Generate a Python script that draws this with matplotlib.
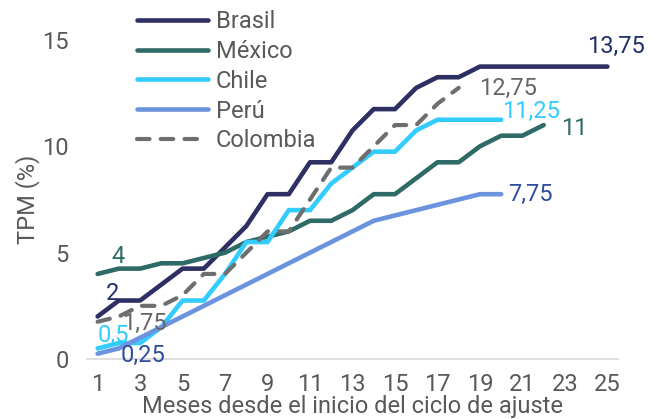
import matplotlib
matplotlib.use("Agg")
import matplotlib.pyplot as plt

# Tasa de política monetaria (%) por mes desde el inicio del ciclo
brasil = [2, 2.75, 2.75, 3.5, 4.25, 4.25, 5.25, 6.25, 7.75, 7.75, 9.25, 9.25, 10.75,
          11.75, 11.75, 12.75, 13.25, 13.25, 13.75, 13.75, 13.75, 13.75, 13.75, 13.75, 13.75]
mexico = [4, 4.25, 4.25, 4.5, 4.5, 4.75, 5.0, 5.5, 5.75, 6.0, 6.5, 6.5, 7.0, 7.75, 7.75,
          8.5, 9.25, 9.25, 10.0, 10.5, 10.5, 11.0]
chile = [0.5, 0.75, 0.75, 1.5, 2.75, 2.75, 4.0, 5.5, 5.5, 7.0, 7.0, 8.25, 9.0, 9.75, 9.75,
         10.75, 11.25, 11.25, 11.25, 11.25]
peru = [0.25, 0.5, 1.0, 1.5, 2.0, 2.5, 3.0, 3.5, 4.0, 4.5, 5.0, 5.5, 6.0, 6.5, 6.75,
        7.0, 7.25, 7.5, 7.75, 7.75]
colombia = [1.75, 2.0, 2.5, 2.5, 3.0, 4.0, 4.0, 5.0, 6.0, 6.0, 7.5, 9.0, 9.0, 10.0, 11.0,
            11.0, 12.0, 12.75]

x_ticks = list(range(1, 26, 2))
y_ticks = [0, 5, 10, 15]

plt.rcParams['font.family'] = ['Roboto', 'DejaVu Sans']

fig = plt.figure(figsize=(6.59, 4.19), dpi=100)
ax = fig.add_axes([87 / 659, 1 - 359 / 419, 531 / 659, 319 / 419])

series = [
    ('Brasil', brasil, '#2E2F63', '-', '#1F2F6B'),
    ('México', mexico, '#2F6B66', '-', '#2F6B66'),
    ('Chile', chile, '#33CCFF', '-', '#33CCFF'),
    ('Perú', peru, '#6B93DE', '-', '#2F4E9C'),
    ('Colombia', colombia, '#6E6E6E', '--', '#666666'),
]

# offsets (points) for first / last value labels
first_off = {'Brasil': (10.8, 16.3), 'México': (14.4, 12.4), 'Chile': (11.5, 9.4),
             'Perú': (33, -1), 'Colombia': (33.8, -1.4)}
last_off = {'Brasil': (6.1, 14.3), 'México': (22, -2.8), 'Chile': (21.6, 6.1),
            'Perú': (20.9, 0), 'Colombia': (35.3, -0.6)}


def fmt(v):
    s = f"{v:.2f}".rstrip('0').rstrip('.')
    return s.replace('.', ',')


for name, vals, color, ls, tcolor in series:
    xs = list(range(1, len(vals) + 1))
    if ls == '--':
        ax.plot(xs, vals, color=color, lw=3.0, linestyle=(0, (3.0, 2.7)),
                dash_capstyle='round', label=name)
    else:
        ax.plot(xs, vals, color=color, lw=3.3, solid_capstyle='round',
                solid_joinstyle='round', label=name)
    ax.annotate(fmt(vals[0]), (xs[0], vals[0]), xytext=first_off[name],
                textcoords='offset points', ha='center', va='center',
                fontsize=17, color=tcolor, annotation_clip=False)
    ax.annotate(fmt(vals[-1]), (xs[-1], vals[-1]), xytext=last_off[name],
                textcoords='offset points', ha='center', va='center',
                fontsize=17, color=tcolor, annotation_clip=False)

ax.set_xlim(0.5, 25.5)
ax.set_ylim(0, 15)
ax.set_xticks(x_ticks)
ax.set_yticks(y_ticks)
ax.tick_params(axis='both', length=0, labelsize=17, colors='#595959')
ax.tick_params(axis='y', pad=13)
ax.tick_params(axis='x', pad=10)

for side in ['top', 'right', 'left']:
    ax.spines[side].set_visible(False)
ax.spines['bottom'].set_color('#D9D9D9')
ax.spines['bottom'].set_linewidth(1.2)

ax.set_ylabel('TPM (%)', fontsize=17, color='#595959', labelpad=2)
ax.set_xlabel('Meses desde el inicio del ciclo de ajuste', fontsize=17,
              color='#595959', labelpad=-1)

leg = fig.legend(loc='upper left', bbox_to_anchor=(137 / 659, 1 - 10 / 419),
                 frameon=False, fontsize=17, handlelength=3.0, handletextpad=0.35,
                 labelspacing=0.29, borderpad=0, borderaxespad=0)
for t in leg.get_texts():
    t.set_color('#595959')

fig.savefig('out.png', dpi=100)
